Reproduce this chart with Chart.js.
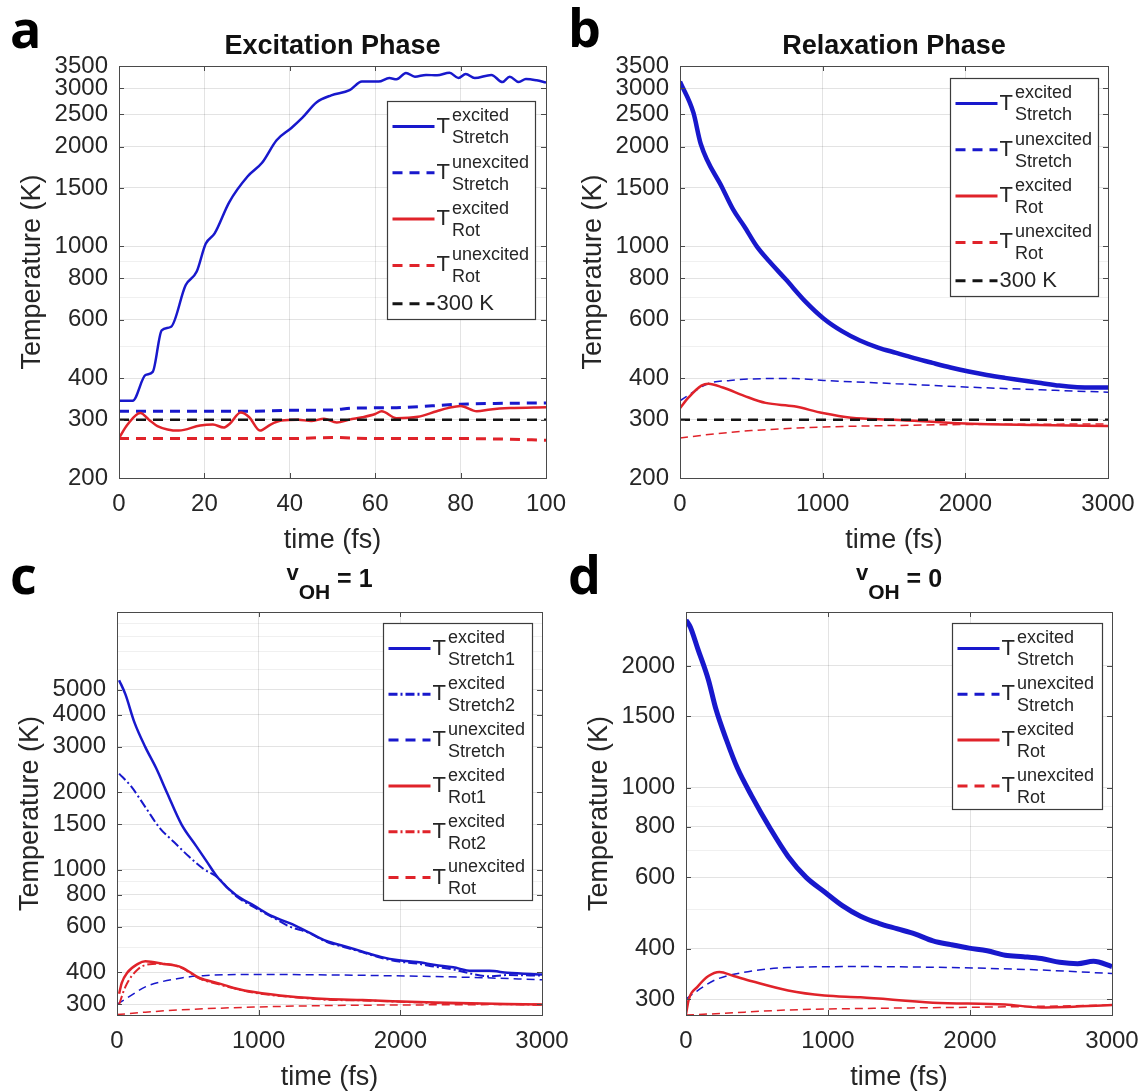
<!DOCTYPE html>
<html>
<head>
<meta charset="utf-8">
<script src="https://cdn.jsdelivr.net/npm/chart.js@4.4.1/dist/chart.umd.min.js"></script>
<style>
  html, body { margin: 0; padding: 0; background: #fff; }
  #page { position: relative; width: 1139px; height: 1092px; overflow: hidden; background: #fff; }
  .panel { position: absolute; }
  .panel canvas { display: block; }
</style>
</head>
<body>
<div id="page"></div>
<script>
// ---- data (temperatures in K, time in fs) ----

// a: excitation phase
const aStretchExcT = [0, 3.2, 6.2, 7.9, 10, 12.2, 15.6, 18.2, 20.3, 22.4, 25.8, 30.1, 33.5, 36.9, 40.3, 42.9, 46.3, 49.7, 54, 56.9, 60.8, 63.3, 65, 67.2, 69.3, 71.9, 74.5, 77.4, 79.5, 81.2, 83.3, 87.2, 89.8, 91.5, 93.6, 95.3, 97.8, 100]
const aStretchExc = [342, 342, 409, 418, 558, 572, 763, 839, 1018, 1094, 1358, 1624, 1787, 2090, 2272, 2440, 2720, 2854, 2958, 3141, 3141, 3218, 3190, 3336, 3250, 3290, 3280, 3340, 3220, 3310, 3220, 3290, 3130, 3250, 3130, 3200, 3170, 3120]
const aStretchUnexcT = [0, 10, 20, 30, 40, 50, 55, 65, 80, 90, 100]
const aStretchUnexc = [318, 318, 318, 318, 320, 321, 325, 326, 334, 336, 337]
const aRotExcT = [0, 2, 5, 7, 9, 14, 19, 22, 24.5, 26, 28.5, 30.5, 33, 35.5, 38, 42, 45, 48, 51, 54, 57, 60, 61.5, 65, 70, 74.4, 77, 80, 83.8, 87, 91.5, 100]
const aRotExc = [264, 290, 314, 300, 287, 278, 288, 290, 284, 292, 315, 305, 278, 290, 298, 300, 297, 302, 294, 300, 305, 312, 318, 303, 306, 318, 325, 330, 318, 322, 325, 327]
const aRotUnexcT = [0, 20, 40, 50, 60, 80, 90, 100]
const aRotUnexc = [263, 263, 263, 265, 263, 263, 262, 260]
const aRefT = [0, 100]
const aRef = [300, 300]

// b: relaxation phase
const bStretchExcT = [0, 94, 145, 297, 373, 450, 538, 627, 741, 881, 1008, 1135, 1261, 1388, 1515, 1642, 1769, 1896, 2023, 2150, 2277, 2404, 2530, 2657, 2784, 2900, 3000]
const bStretchExc = [3140, 2530, 2040, 1500, 1290, 1150, 1000, 900, 795, 680, 605, 555, 520, 495, 477, 460, 445, 431, 419, 409, 401, 394, 387, 380, 376, 375, 375]
const bStretchUnexcT = [0, 100, 195, 350, 627, 800, 1008, 1515, 2023, 2530, 3000]
const bStretchUnexc = [342, 365, 385, 394, 399, 399, 394, 385, 376, 369, 363]
const bRotExcT = [0, 60, 150, 200, 300, 450, 600, 800, 1000, 1200, 1500, 2000, 2500, 3000]
const bRotExc = [325, 350, 380, 385, 375, 354, 337, 329, 314, 304, 300, 292, 289, 287]
const bRotUnexcT = [0, 250, 500, 1008, 1500, 2000, 3000]
const bRotUnexc = [264, 272, 278, 285, 288, 290, 291]
const bRefT = [0, 3000]
const bRef = [300, 300]

// c: v_OH = 1
const cStretch1T = [15, 59, 123, 200, 276, 353, 455, 557, 634, 711, 839, 967, 1095, 1223, 1350, 1478, 1606, 1734, 1862, 1990, 2118, 2246, 2373, 2501, 2629, 2757, 3000]
const cStretch1 = [5440, 4800, 3730, 2990, 2480, 1990, 1500, 1240, 1075, 933, 797, 725, 660, 619, 573, 529, 505, 481, 459, 445, 438, 427, 418, 405, 405, 398, 392]
const cStretch2T = [15, 97, 200, 302, 404, 506, 609, 711, 839, 967, 1095, 1223, 1350, 1478, 1606, 1734, 1862, 1990, 2118, 2246, 2373, 2501, 2629, 2757, 3000]
const cStretch2 = [2360, 2115, 1750, 1450, 1278, 1127, 1009, 933, 790, 715, 655, 600, 570, 525, 500, 478, 455, 440, 432, 420, 410, 395, 386, 390, 388]
const cStretchUnexcT = [0, 100, 200, 455, 609, 1000, 1600, 2501, 3000]
const cStretchUnexc = [300, 325, 351, 380, 388, 392, 390, 382, 374]
const cRot1T = [15, 33, 72, 148, 200, 327, 455, 583, 711, 839, 967, 1223, 1478, 1734, 2246, 3000]
const cRot1 = [330, 363, 398, 431, 441, 431, 418, 380, 363, 346, 335, 322, 315, 312, 305, 300]
const cRot2T = [15, 59, 148, 250, 327, 455, 583, 711, 839, 967, 1223, 1478, 1734, 2246, 3000]
const cRot2 = [300, 351, 411, 431, 432, 416, 378, 360, 345, 333, 321, 313, 311, 304, 299]
const cRotUnexcT = [0, 200, 455, 967, 1478, 2246, 3000]
const cRotUnexc = [274, 280, 286, 293, 297, 299, 300]

// d: v_OH = 0
const dStretchExcT = [0, 31, 82, 158, 209, 285, 362, 464, 591, 719, 846, 974, 1101, 1229, 1356, 1484, 1611, 1739, 1866, 1994, 2121, 2248, 2376, 2503, 2631, 2758, 2870, 3000]
const dStretchExc = [2600, 2494, 2211, 1847, 1572, 1312, 1118, 952, 795, 676, 600, 553, 511, 481, 462, 448, 435, 418, 409, 401, 395, 385, 382, 378, 370, 367, 372, 361]
const dStretchUnexcT = [0, 82, 209, 464, 719, 1229, 1866, 2503, 3000]
const dStretchUnexc = [300, 315, 335, 352, 359, 361, 359, 354, 347]
const dRotExcT = [0, 20, 82, 158, 235, 336, 464, 719, 974, 1229, 1739, 2248, 2503, 3000]
const dRotExc = [275, 300, 322, 342, 350, 342, 332, 315, 306, 303, 294, 291, 286, 290]
const dRotUnexcT = [0, 209, 719, 1470, 2248, 3000]
const dRotUnexc = [274, 276, 282, 285, 287, 290]

// tick labels and extra (unlabelled) grid lines
const abYLabels = [200, 300, 400, 600, 800, 1000, 1500, 2000, 2500, 3000, 3500]
const abYMinor = [500, 700, 900]
const cYLabels = [300, 400, 600, 800, 1000, 1500, 2000, 3000, 4000, 5000]
const cYMinor = [500, 700, 900, 6000, 7000, 8000, 9000]
const dYLabels = [300, 400, 600, 800, 1000, 1500, 2000]
const dYMinor = [500, 700, 900]

const BLUE = '#1818cc'
const RED = '#e0232a'
const BLACK = '#141414'
const TEXT = '#262626'
const FONT = "'Liberation Sans', Arial, Helvetica, sans-serif"
const DASH = [10, 7]
const THIN_DASH = [8, 5]
const DASH_DOT = [9, 3, 2, 3]

Chart.defaults.font.family = FONT
Chart.defaults.color = TEXT

// axes box with inward tick marks (matlab style)
const boxPlugin = {
  id: 'axesBox',
  afterDatasetsDraw (chart) {
    const { ctx, chartArea: a, scales } = chart
    const o = chart.options.plugins.axesBox
    ctx.save()
    ctx.strokeStyle = '#4a4a4a'
    ctx.lineWidth = 1
    ctx.beginPath()
    o.xTicks.forEach(v => {
      const px = Math.round(scales.x.getPixelForValue(v)) + 0.5
      ctx.moveTo(px, a.bottom); ctx.lineTo(px, a.bottom - 5)
      ctx.moveTo(px, a.top); ctx.lineTo(px, a.top + 5)
    })
    o.yTicks.forEach(v => {
      const py = Math.round(scales.y.getPixelForValue(v)) + 0.5
      ctx.moveTo(a.left, py); ctx.lineTo(a.left + 5, py)
      ctx.moveTo(a.right, py); ctx.lineTo(a.right - 5, py)
    })
    ctx.stroke()
    ctx.strokeRect(Math.round(a.left) + 0.5, Math.round(a.top) + 0.5, Math.round(a.right - a.left), Math.round(a.bottom - a.top))
    ctx.restore()
  }
}

// legend with T^{sup}_{sub} entries, panel letter and title
const texPlugin = {
  id: 'texText',
  afterDraw (chart) {
    const { ctx, chartArea: a } = chart
    const o = chart.options.plugins.texText
    ctx.save()
    // panel letter
    ctx.fillStyle = '#000'
    ctx.textBaseline = 'alphabetic'
    ctx.font = "700 52px 'Open Sans', sans-serif"
    ctx.fillText(o.letter, o.letterX, o.letterY)
    // title pieces, centred over the axes
    let total = 0
    o.title.forEach(p => { ctx.font = `700 ${p.size}px ${FONT}`; p.w = ctx.measureText(p.t).width; total += p.w })
    let tx = (a.left + a.right) / 2 - total / 2
    ctx.fillStyle = '#111'
    o.title.forEach(p => {
      ctx.font = `700 ${p.size}px ${FONT}`
      ctx.fillText(p.t, tx, a.top + o.titleY + (p.dy || 0))
      tx += p.w
    })
    // legend
    const lg = o.legend
    const x0 = Math.round(a.right - lg.right - lg.width) + 0.5
    const y0 = Math.round(a.top + lg.top) + 0.5
    ctx.fillStyle = '#fff'
    ctx.fillRect(x0, y0, lg.width, lg.height)
    ctx.strokeStyle = '#3c3c3c'
    ctx.lineWidth = 1.2
    ctx.strokeRect(x0, y0, lg.width, lg.height)
    lg.rows.forEach((r, i) => {
      const cy = y0 + 25 + i * lg.step - (r.text ? 8 : 0)
      ctx.beginPath()
      ctx.setLineDash(r.dash || [])
      ctx.strokeStyle = r.color
      ctx.lineWidth = 3
      ctx.moveTo(x0 + 5, cy)
      ctx.lineTo(x0 + 47, cy)
      ctx.stroke()
      ctx.setLineDash([])
      ctx.fillStyle = TEXT
      ctx.textBaseline = 'middle'
      ctx.font = `22px ${FONT}`
      if (r.text) {
        ctx.fillText(r.text, x0 + 49, cy)
        return
      }
      ctx.fillText('T', x0 + 49, cy)
      const tw = ctx.measureText('T').width
      ctx.font = `18px ${FONT}`
      ctx.fillText(r.sup, x0 + 51 + tw, cy - 10)
      ctx.fillText(r.sub, x0 + 51 + tw, cy + 12)
    })
    ctx.restore()
  }
}

const page = document.getElementById('page')

function line (xs, ys, color, width, dash) {
  return { x: xs, y: ys, color, width, dash }
}

function makePanel (p) {
  const [cx, cy, cw, ch] = p.box
  const [L, T, R, B] = p.plot
  const div = document.createElement('div')
  div.className = 'panel'
  div.style.left = cx + 'px'
  div.style.top = cy + 'px'
  const canvas = document.createElement('canvas')
  canvas.width = cw
  canvas.height = ch
  canvas.style.width = cw + 'px'
  canvas.style.height = ch + 'px'
  div.appendChild(canvas)
  page.appendChild(div)

  const yGrid = p.yLabels.concat(p.yMinor).sort((m, n) => m - n)
  const xTicks = []
  for (let v = p.xMin; v <= p.xMax; v += p.xStep) xTicks.push(v)

  new Chart(canvas, {
    type: 'line',
    data: {
      datasets: p.series.map((s, i) => ({
        data: s.x.map((x, k) => ({ x, y: s.y[k] })),
        borderColor: s.color,
        borderWidth: s.width,
        borderDash: s.dash || [],
        pointRadius: 0,
        fill: false,
        cubicInterpolationMode: 'monotone',
        order: -i
      }))
    },
    options: {
      responsive: false,
      animation: false,
      events: [],
      layout: { padding: { left: 0, top: T - cy, right: cx + cw - R, bottom: 0 } },
      scales: {
        x: {
          type: 'linear',
          min: p.xMin,
          max: p.xMax,
          afterFit: s => {
            s.height = cy + ch - B
            s.paddingLeft = 0
            s.paddingRight = 0
          },
          afterBuildTicks: s => { s.ticks = xTicks.map(v => ({ value: v })) },
          ticks: { callback: v => String(v), font: { size: 24 }, color: TEXT, padding: 12, maxRotation: 0, autoSkip: false },
          grid: { color: 'rgba(0,0,0,0.11)', drawTicks: false },
          border: { display: false },
          title: {
            display: true,
            text: 'time (fs)',
            font: { size: 27 },
            color: TEXT,
            padding: { top: 0, bottom: (cy + ch) - 16.2 - (B + 63) }
          }
        },
        y: {
          type: 'logarithmic',
          min: p.yMin,
          max: p.yMax,
          afterFit: s => {
            s.width = L - cx
            s.paddingTop = 0
            s.paddingBottom = 0
          },
          afterBuildTicks: s => { s.ticks = yGrid.map(v => ({ value: v })) },
          ticks: {
            callback: v => p.yLabels.includes(v) ? String(v) : '',
            font: { size: 24 },
            color: TEXT,
            padding: 11,
            autoSkip: false
          },
          grid: {
            color: c => (c.tick && p.yLabels.includes(c.tick.value)) ? 'rgba(0,0,0,0.11)' : 'rgba(0,0,0,0.06)',
            drawTicks: false
          },
          border: { display: false },
          title: {
            display: true,
            text: 'Temperature (K)',
            font: { size: 27 },
            color: TEXT,
            padding: { top: L - 86 - cx - 16.2, bottom: 0 }
          }
        }
      },
      plugins: {
        legend: { display: false },
        tooltip: { enabled: false },
        axesBox: { xTicks, yTicks: p.yLabels },
        texText: {
          letter: p.letter,
          letterX: p.letterPos[0] - cx,
          letterY: p.letterPos[1] - cy,
          title: p.title,
          titleY: p.titleY,
          legend: p.legend
        }
      }
    },
    plugins: [boxPlugin, texPlugin]
  })
}

const rowsAB = [
  { sup: 'excited', sub: 'Stretch', color: BLUE },
  { sup: 'unexcited', sub: 'Stretch', color: BLUE, dash: DASH },
  { sup: 'excited', sub: 'Rot', color: RED },
  { sup: 'unexcited', sub: 'Rot', color: RED, dash: DASH },
  { text: '300 K', color: BLACK, dash: DASH }
]

makePanel({
  letter: 'a',
  letterPos: [10, 48],
  box: [0, 0, 570, 560],
  plot: [119, 66, 546, 478],
  xMin: 0, xMax: 100, xStep: 20,
  yMin: 200, yMax: 3500, yLabels: abYLabels, yMinor: abYMinor,
  title: [{ t: 'Excitation Phase', size: 27 }],
  titleY: -12,
  legend: { right: 11, top: 35, width: 148, height: 218, step: 46.3, rows: rowsAB },
  series: [
    line(aStretchExcT, aStretchExc, BLUE, 2.5),
    line(aStretchUnexcT, aStretchUnexc, BLUE, 3, DASH),
    line(aRotExcT, aRotExc, RED, 2.5),
    line(aRotUnexcT, aRotUnexc, RED, 3, DASH),
    line(aRefT, aRef, BLACK, 2.5, DASH)
  ]
})

makePanel({
  letter: 'b',
  letterPos: [568, 47],
  box: [570, 0, 569, 560],
  plot: [680, 66, 1108, 478],
  xMin: 0, xMax: 3000, xStep: 1000,
  yMin: 200, yMax: 3500, yLabels: abYLabels, yMinor: abYMinor,
  title: [{ t: 'Relaxation Phase', size: 27 }],
  titleY: -12,
  legend: { right: 10, top: 12, width: 148, height: 218, step: 46.3, rows: rowsAB },
  series: [
    line(bStretchExcT, bStretchExc, BLUE, 4.5),
    line(bStretchUnexcT, bStretchUnexc, BLUE, 1.5, THIN_DASH),
    line(bRotExcT, bRotExc, RED, 2.5),
    line(bRotUnexcT, bRotUnexc, RED, 1.5, THIN_DASH),
    line(bRefT, bRef, BLACK, 2.5, DASH)
  ]
})

makePanel({
  letter: 'c',
  letterPos: [10, 594],
  box: [0, 545, 570, 560],
  plot: [117, 612, 542, 1015],
  xMin: 0, xMax: 3000, xStep: 1000,
  yMin: 273, yMax: 10000, yLabels: cYLabels, yMinor: cYMinor,
  title: [{ t: 'v', size: 22, dy: -7 }, { t: 'OH', size: 21, dy: 12 }, { t: ' = 1', size: 25 }],
  titleY: -25,
  legend: {
    right: 10, top: 11, width: 149, height: 277, step: 45.8,
    rows: [
      { sup: 'excited', sub: 'Stretch1', color: BLUE },
      { sup: 'excited', sub: 'Stretch2', color: BLUE, dash: DASH_DOT },
      { sup: 'unexcited', sub: 'Stretch', color: BLUE, dash: DASH },
      { sup: 'excited', sub: 'Rot1', color: RED },
      { sup: 'excited', sub: 'Rot2', color: RED, dash: DASH_DOT },
      { sup: 'unexcited', sub: 'Rot', color: RED, dash: DASH }
    ]
  },
  series: [
    line(cStretch1T, cStretch1, BLUE, 2.5),
    line(cStretch2T, cStretch2, BLUE, 2, DASH_DOT),
    line(cStretchUnexcT, cStretchUnexc, BLUE, 1.5, THIN_DASH),
    line(cRot1T, cRot1, RED, 2.5),
    line(cRot2T, cRot2, RED, 2, DASH_DOT),
    line(cRotUnexcT, cRotUnexc, RED, 1.5, THIN_DASH)
  ]
})

makePanel({
  letter: 'd',
  letterPos: [568, 594],
  box: [570, 545, 569, 560],
  plot: [686, 612, 1112, 1015],
  xMin: 0, xMax: 3000, xStep: 1000,
  yMin: 274, yMax: 2720, yLabels: dYLabels, yMinor: dYMinor,
  title: [{ t: 'v', size: 22, dy: -7 }, { t: 'OH', size: 21, dy: 12 }, { t: ' = 0', size: 25 }],
  titleY: -25,
  legend: {
    right: 10, top: 11, width: 150, height: 186, step: 45.8,
    rows: [
      { sup: 'excited', sub: 'Stretch', color: BLUE },
      { sup: 'unexcited', sub: 'Stretch', color: BLUE, dash: DASH },
      { sup: 'excited', sub: 'Rot', color: RED },
      { sup: 'unexcited', sub: 'Rot', color: RED, dash: DASH }
    ]
  },
  series: [
    line(dStretchExcT, dStretchExc, BLUE, 5),
    line(dStretchUnexcT, dStretchUnexc, BLUE, 1.5, THIN_DASH),
    line(dRotExcT, dRotExc, RED, 2.5),
    line(dRotUnexcT, dRotUnexc, RED, 1.5, THIN_DASH)
  ]
})
</script>
</body>
</html>
